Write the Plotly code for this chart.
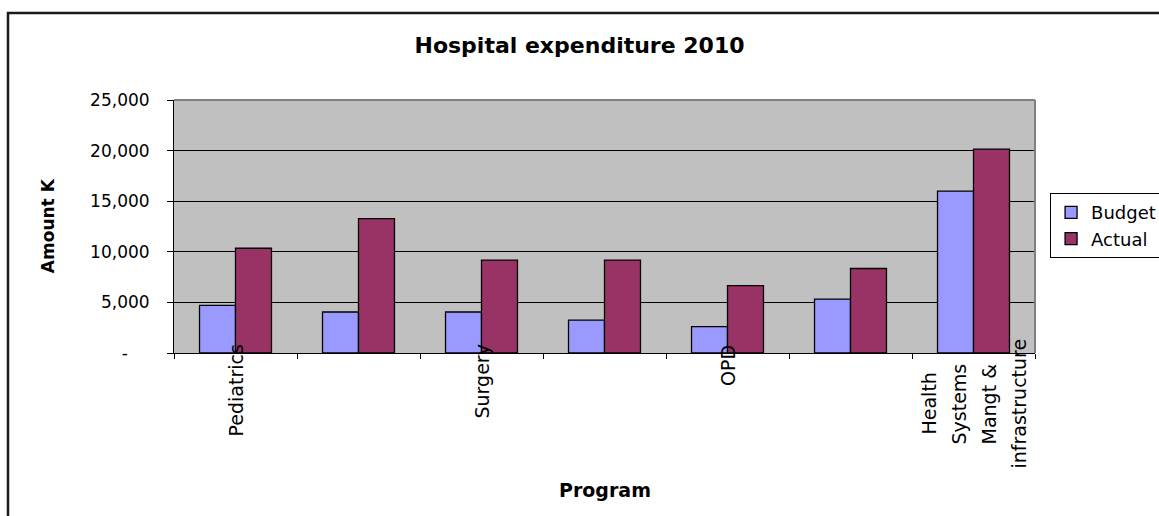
import plotly.graph_objects as go

# Programme categories (only every other one carries a printed label)
programs = ["Pediatrics", "", "Surgery", "", "OPD", "", "Health<br>Systems<br>Mangt &<br>infrastructure"]
budget = [4700, 4050, 4050, 3250, 2600, 5330, 16000]
actual = [10350, 13270, 9170, 9170, 6650, 8350, 20150]

y_ticks = [0, 5000, 10000, 15000, 20000, 25000]
y_tick_text = ["-\u2007\u2007", "5,000", "10,000", "15,000", "20,000", "25,000"]

positions = list(range(len(programs)))
FONT = "DejaVu Sans"
LABEL_FONT = dict(family=FONT, size=19, color="#000000")

fig = go.Figure()
fig.add_trace(go.Bar(
    x=positions, y=budget, name="Budget",
    marker=dict(color="#9999FF", line=dict(color="#000000", width=1.3)),
))
fig.add_trace(go.Bar(
    x=positions, y=actual, name="Actual",
    marker=dict(color="#993366", line=dict(color="#000000", width=1.3)),
))

# category labels, rotated and tucked slightly over the axis
annotations = []
for pos, label in zip(positions, programs):
    if not label:
        continue
    lines = label.split("<br>")
    if len(lines) == 1:
        annotations.append(dict(
            x=pos, xref="x", y=0, yref="paper", yanchor="top", xanchor="center",
            yshift=10, text=label, textangle=-90, showarrow=False,
            font=LABEL_FONT,
        ))
    else:
        # wrapped label: one column per line, centred on a common middle
        n = len(lines)
        for i, line in enumerate(lines):
            annotations.append(dict(
                x=pos, xref="x", y=0, yref="paper", yanchor="middle", xanchor="center",
                xshift=(i - (n - 1) / 2) * 30, yshift=-51, text=line, textangle=-90,
                showarrow=False, font=LABEL_FONT,
            ))

annotations.append(dict(
    x=-0.147, xref="paper", y=0.503, yref="paper", text="<b>Amount K</b>",
    textangle=-90, showarrow=False, xanchor="center", yanchor="middle",
    font=dict(family=FONT, size=17, color="#000000"),
))
annotations.append(dict(
    x=0.5, xref="paper", y=-0.542, yref="paper", text="<b>Program</b>",
    showarrow=False, xanchor="center", yanchor="middle",
    font=dict(family=FONT, size=19, color="#000000"),
))

shapes = [
    # outer chart frame
    dict(type="rect", xref="paper", yref="paper", x0=-0.1928, x1=1.2, y0=-0.8, y1=1.3439,
         line=dict(color="#1a1a1a", width=2.5), layer="below"),
    # grey top/right edges of the plot area
    dict(type="line", xref="paper", yref="paper", x0=0, x1=1, y0=1, y1=1,
         line=dict(color="#808080", width=2), layer="above"),
    dict(type="line", xref="paper", yref="paper", x0=1, x1=1, y0=0, y1=1,
         line=dict(color="#808080", width=2), layer="above"),
]

fig.update_layout(
    width=1159, height=516,
    margin=dict(l=174, r=124, t=100, b=163, autoexpand=False),
    paper_bgcolor="#FFFFFF", plot_bgcolor="#C0C0C0",
    barmode="group", bargap=0.415, bargroupgap=0,
    font=dict(family=FONT, color="#000000"),
    title=dict(text="<b>Hospital expenditure 2010</b>", x=0.5, xref="container", xanchor="center",
               y=1 - 45 / 516, yref="container", yanchor="middle",
               font=dict(family=FONT, size=22, color="#000000")),
    showlegend=True,
    legend=dict(x=1.0175, xanchor="left", y=0.632, yanchor="top",
                bgcolor="#FFFFFF", bordercolor="#000000", borderwidth=1,
                font=dict(family=FONT, size=18, color="#000000"),
                traceorder="normal", itemclick=False),
    annotations=annotations,
    shapes=shapes,
)

fig.update_xaxes(
    range=[-0.5, len(programs) - 0.5],
    tickvals=[p - 0.5 for p in positions] + [len(programs) - 0.5],
    showticklabels=False, ticks="outside", ticklen=5, tickcolor="#000000", tickwidth=1,
    showgrid=False, zeroline=False, showline=True, linecolor="#000000", linewidth=1,
)
fig.update_yaxes(
    range=[0, 25000], tickvals=y_ticks, ticktext=y_tick_text,
    ticks="outside", ticklen=6, tickcolor="#000000", tickwidth=1,
    ticklabelstandoff=14,
    tickfont=dict(family=FONT, size=17, color="#000000"),
    showgrid=True, gridcolor="#000000", gridwidth=1,
    zeroline=False, showline=True, linecolor="#000000", linewidth=1,
)

fig.write_html("out.html")
